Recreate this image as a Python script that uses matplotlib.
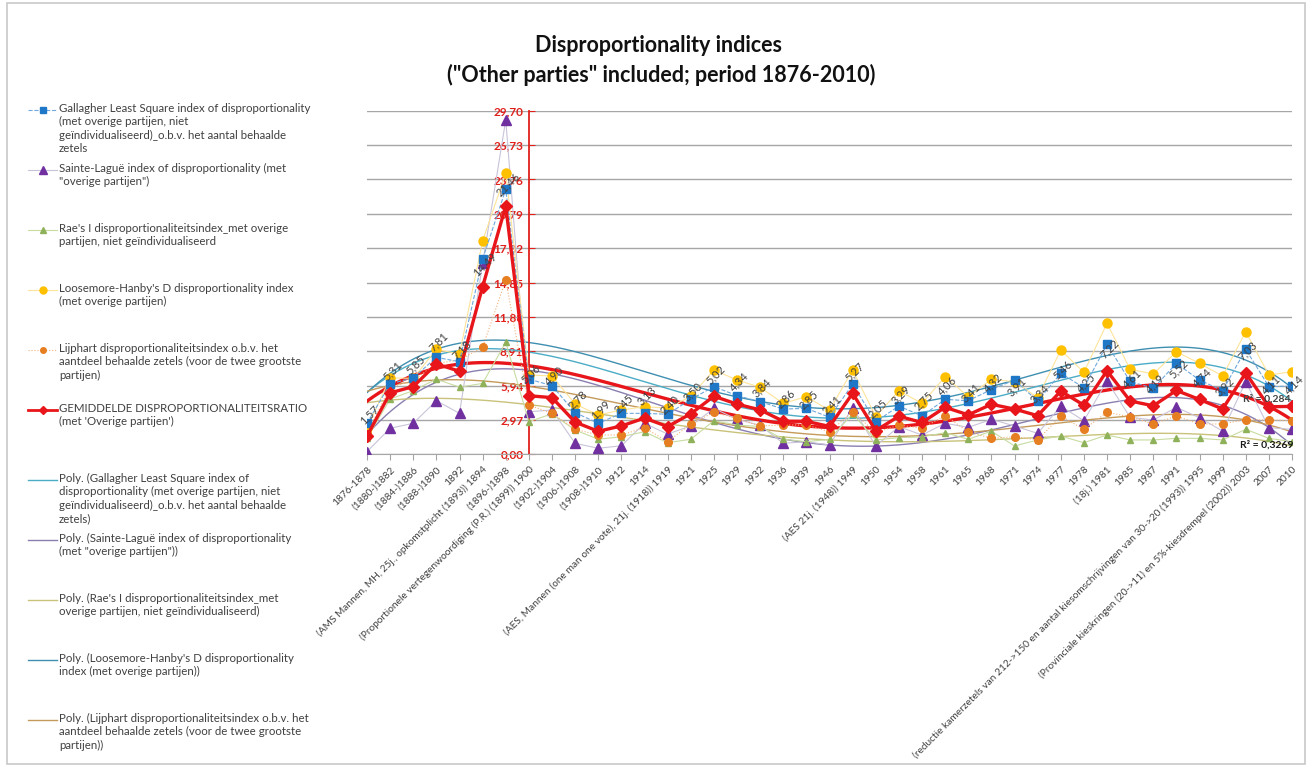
import numpy as np
import matplotlib
matplotlib.use("Agg")
import matplotlib.pyplot as plt
from matplotlib.lines import Line2D
from matplotlib.patches import Rectangle

plt.rcParams['font.family'] = ['Lato', 'DejaVu Sans']

# ---- data ----
categories = [
    "1876-1878", "(1880-)1882", "(1884-)1886", "(1888-)1890", "1892",
    "(AMS Mannen, MH, 25j., opkomstplicht (1893)) 1894", "(1896-)1898",
    "(Proportionele vertegenwoordiging (P.R.) (1899)) 1900", "(1902-)1904",
    "(1906-)1908", "(1908-)1910", "1912", "1914",
    "(AES, Mannen (one man one vote), 21j. (1918)) 1919", "1921", "1925",
    "1929", "1932", "1936", "1939", "1946", "(AES 21j. (1948)) 1949", "1950",
    "1954", "1958", "1961", "1965", "1968", "1971", "1974", "1977", "1978",
    "(18j.) 1981", "1985", "1987", "1991",
    "(reductie kamerzetels van 212->150 en aantal kiesomschrijvingen van 30->20 (1993)) 1995",
    "1999", "(Provinciale kieskringen (20->11) en 5%-kiesdrempel (2002)) 2003",
    "2007", "2010",
]

gallagher = [2.68, 6.1, 6.6, 8.38, 8.0, 16.88, 22.9, 6.5, 5.93, 3.6, 2.68,
             3.54, 3.54, 3.46, 4.75, 5.85, 5.07, 4.55, 3.91, 3.97, 3.2, 6.05,
             2.82, 4.17, 3.31, 4.75, 4.63, 5.6, 6.42, 4.6, 7.0, 5.76, 9.5,
             6.3, 5.7, 7.86, 6.42, 5.5, 9.07, 5.85, 5.9]
sainte_lague = [0.23, 2.25, 2.68, 4.63, 3.54, 16.5, 28.9, 3.68, 3.83, 0.95,
                0.52, 0.74, 2.68, 1.75, 2.45, 3.97, 3.02, 2.5, 0.95, 1.09,
                0.8, 4.03, 0.72, 2.39, 1.67, 2.68, 2.33, 3.02, 2.45, 1.81,
                4.17, 2.9, 6.33, 3.2, 2.96, 4.06, 3.16, 2.01, 6.28, 2.3, 2.16]
rae = [1.4, 4.78, 5.5, 6.5, 5.8, 6.13, 9.68, 2.82, 3.5, 2.1, 1.3, 1.52,
       1.95, 1.0, 1.3, 2.9, 2.53, 2.4, 1.3, 1.09, 1.3, 3.5, 1.24, 1.44, 1.5,
       1.87, 1.3, 2.0, 0.72, 1.24, 1.58, 1.0, 1.67, 1.24, 1.24, 1.38, 1.38,
       1.24, 2.16, 1.38, 1.09]
loosemore = [2.25, 6.6, 6.57, 9.07, 8.67, 18.46, 24.29, 6.85, 6.77, 4.35,
             3.4, 3.83, 4.11, 4.0, 5.0, 7.29, 6.42, 5.79, 4.4, 4.98, 3.8,
             7.29, 3.25, 5.5, 4.4, 6.71, 4.98, 6.48, 6.28, 4.9, 9.01, 7.09,
             11.32, 7.35, 6.94, 8.87, 7.86, 6.77, 10.6, 6.85, 7.14]
lijphart = [1.8, 5.8, 6.36, 7.86, 8.15, 9.25, 15.07, 4.26, 3.54, 2.16, 1.67,
            1.67, 2.3, 1.09, 2.62, 3.63, 3.1, 2.45, 2.53, 2.53, 1.95, 3.68,
            1.87, 2.53, 2.25, 3.34, 1.95, 1.38, 1.52, 1.24, 3.31, 2.16, 3.63,
            3.25, 2.62, 3.31, 2.62, 2.62, 3.0, 2.96, 2.9]
average = [1.57, 5.31, 5.85, 7.81, 7.18, 14.49, 21.46, 5.06, 4.90, 2.78,
           1.99, 2.45, 3.13, 2.40, 3.50, 5.02, 4.34, 3.84, 2.86, 2.85, 2.41,
           5.27, 2.05, 3.29, 2.75, 4.06, 3.41, 4.32, 3.91, 3.34, 5.46, 4.25,
           7.22, 4.61, 4.19, 5.52, 4.74, 3.92, 7.03, 4.11, 4.14]

y_ticks = [0.0, 2.97, 5.94, 8.91, 11.88, 14.85, 17.82, 20.79, 23.76, 26.73, 29.70]

legend_labels = [
    "Gallagher Least Square index of disproportionality\n(met overige partijen, niet\ngeïndividualiseerd)_o.b.v. het aantal behaalde\nzetels",
    "Sainte-Laguë index of disproportionality (met\n\"overige partijen\")",
    "Rae's I disproportionaliteitsindex_met overige\npartijen, niet geïndividualiseerd",
    "Loosemore-Hanby's D disproportionality index\n(met overige partijen)",
    "Lijphart disproportionaliteitsindex o.b.v. het\naantdeel behaalde zetels (voor de twee grootste\npartijen)",
    "GEMIDDELDE DISPROPORTIONALITEITSRATIO\n(met 'Overige partijen')",
    "Poly. (Gallagher Least Square index of\ndisproportionality (met overige partijen, niet\ngeïndividualiseerd)_o.b.v. het aantal behaalde\nzetels)",
    "Poly. (Sainte-Laguë index of disproportionality\n(met \"overige partijen\"))",
    "Poly. (Rae's I disproportionaliteitsindex_met\noverige partijen, niet geïndividualiseerd)",
    "Poly. (Loosemore-Hanby's D disproportionality\nindex (met overige partijen))",
    "Poly. (Lijphart disproportionaliteitsindex o.b.v. het\naantdeel behaalde zetels (voor de twee grootste\npartijen))",
]

RED = "#e0201b"
W, H = 1309, 767
fig = plt.figure(figsize=(W / 100, H / 100), dpi=100)

# plot area in pixels: x 367..1292, y 111..454
ax = fig.add_axes([367 / W, 1 - 454.3 / H, (1292 - 367) / W, (454.3 - 110.7) / H])
x = np.arange(len(categories))

ax.set_xlim(0, len(categories) - 1)
ax.set_ylim(0, 29.70)
ax.set_yticks(y_ticks)
ax.set_yticklabels([("%.2f" % v).replace(".", ",") for v in y_ticks])
ax.yaxis.grid(True, color="#a6a6a6", linewidth=1.0)
ax.set_axisbelow(True)
for s in ["top", "right"]:
    ax.spines[s].set_visible(False)
ax.spines["left"].set_position(("data", 7))
ax.spines["left"].set_color(RED)
ax.spines["left"].set_linewidth(1.3)
ax.spines["bottom"].set_color("#a6a6a6")
ax.tick_params(axis="y", direction="in", length=4, color=RED, pad=4,
               labelcolor=RED, labelsize=8.5)
ax.tick_params(axis="x", direction="out", length=4, color="#a6a6a6",
               labelcolor="#404040", labelsize=7.3)
for t in ax.get_yticklabels():
    t.set_fontweight("bold")

ax.set_xticks(x)
ax.set_xticklabels(categories, rotation=45, ha="right", rotation_mode="anchor")

# polynomial trendlines
xf = np.linspace(0, len(categories) - 1, 300)
trend_specs = [
    (gallagher, "#4bacc6", 1.0),
    (sainte_lague, "#8a7fb0", 1.0),
    (rae, "#c9c27a", 1.0),
    (loosemore, "#3f8fb0", 1.0),
    (lijphart, "#c49a5a", 1.0),
    (average, "#e8161b", 2.4),
]
for vals, col, lw in trend_specs:
    coef = np.polyfit(x + 1, vals, 4)
    ax.plot(xf, np.polyval(coef, xf + 1), color=col, linewidth=lw, zorder=2)

# series
ax.plot(x, sainte_lague, color="#c9c3d9", linewidth=0.8, marker="^",
        markersize=7, markerfacecolor="#7030a0", markeredgecolor="#7030a0", zorder=3)
ax.plot(x, rae, color="#c8dca0", linewidth=0.8, marker="^", markersize=5,
        markerfacecolor="#8fb15a", markeredgecolor="#8fb15a", zorder=3)
ax.plot(x, lijphart, color="#f3b27a", linewidth=0.8, linestyle=":", marker="o",
        markersize=5.5, markerfacecolor="#e67e22", markeredgecolor="#e67e22", zorder=3)
ax.plot(x, loosemore, color="#fde49a", linewidth=0.8, marker="o", markersize=6.5,
        markerfacecolor="#ffc000", markeredgecolor="#ffc000", zorder=3)
ax.plot(x, gallagher, color="#6fa8dc", linewidth=0.8, linestyle="--", marker="s",
        markersize=6, markerfacecolor="#1f77c8", markeredgecolor="#1f77c8", zorder=4)
ax.plot(x, average, color="#e8161b", linewidth=2.4, marker="D", markersize=6.5,
        markerfacecolor="#e8161b", markeredgecolor="#e8161b", zorder=5)

for xi, v in zip(x, average):
    ax.annotate(("%.2f" % v).replace(".", ","), (xi, v), xytext=(2, 22),
                textcoords="offset pixels", rotation=45, ha="center", va="center",
                fontsize=8, color="#404040", zorder=6)

ax.text(38.9, 4.75, "R² = 0,284", fontsize=7.5, color="#404040", ha="center",
        va="center", fontweight="bold", zorder=6)
ax.text(38.9, 0.8, "R² = 0,3269", fontsize=7.5, color="#1a1a1a", ha="center",
        va="center", fontweight="bold", zorder=6)

# title
fig.text(0.503, 1 - 45 / H, "Disproportionality indices", ha="center", va="center",
         fontsize=15.5, fontweight="bold", color="#111111")
fig.text(0.505, 1 - 75 / H, "(\"Other parties\" included; period 1876-2010)",
         ha="center", va="center", fontsize=15.5, fontweight="bold", color="#111111")

# legend drawn in pixel coordinates on an overlay axes
lg = fig.add_axes([0, 0, 1, 1])
lg.set_xlim(0, W)
lg.set_ylim(H, 0)
lg.axis("off")
lg.set_zorder(-1)
lg.add_patch(Rectangle((7, 3), W - 11, H - 6, fill=False, edgecolor="#c8c8c8",
                       linewidth=1.2))

handle_styles = [
    dict(color="#6fa8dc", ls="--", lw=0.8, marker="s", ms=5, mfc="#1f77c8", mec="#1f77c8"),
    dict(color="#c9c3d9", ls="-", lw=0.8, marker="^", ms=6, mfc="#7030a0", mec="#7030a0"),
    dict(color="#c8dca0", ls="-", lw=0.8, marker="^", ms=4, mfc="#8fb15a", mec="#8fb15a"),
    dict(color="#fde49a", ls="-", lw=0.8, marker="o", ms=5, mfc="#ffc000", mec="#ffc000"),
    dict(color="#f3b27a", ls=":", lw=0.8, marker="o", ms=4, mfc="#e67e22", mec="#e67e22"),
    dict(color="#e8161b", ls="-", lw=2.0, marker="D", ms=4.5, mfc="#e8161b", mec="#e8161b"),
    dict(color="#4bacc6", ls="-", lw=1.0),
    dict(color="#8a7fb0", ls="-", lw=1.0),
    dict(color="#c9c27a", ls="-", lw=1.0),
    dict(color="#3f8fb0", ls="-", lw=1.0),
    dict(color="#c49a5a", ls="-", lw=1.0),
]
for i, (lab, st) in enumerate(zip(legend_labels, handle_styles)):
    yy = 110 + 60 * i + (10 if i >= 6 else 0)
    st = dict(st)
    mk = st.pop("marker", None)
    ms = st.pop("ms", 0)
    mfc = st.pop("mfc", None)
    mec = st.pop("mec", None)
    lg.add_line(Line2D([28, 57], [yy, yy], color=st["color"], linestyle=st["ls"],
                       linewidth=st["lw"]))
    if mk:
        lg.plot([42.5], [yy], marker=mk, markersize=ms, markerfacecolor=mfc,
                markeredgecolor=mec, linestyle="none")
    lg.text(59, yy - 7, lab, ha="left", va="top", fontsize=8.3, color="#404040",
            linespacing=1.25)

fig.savefig("out.png", dpi=100)
